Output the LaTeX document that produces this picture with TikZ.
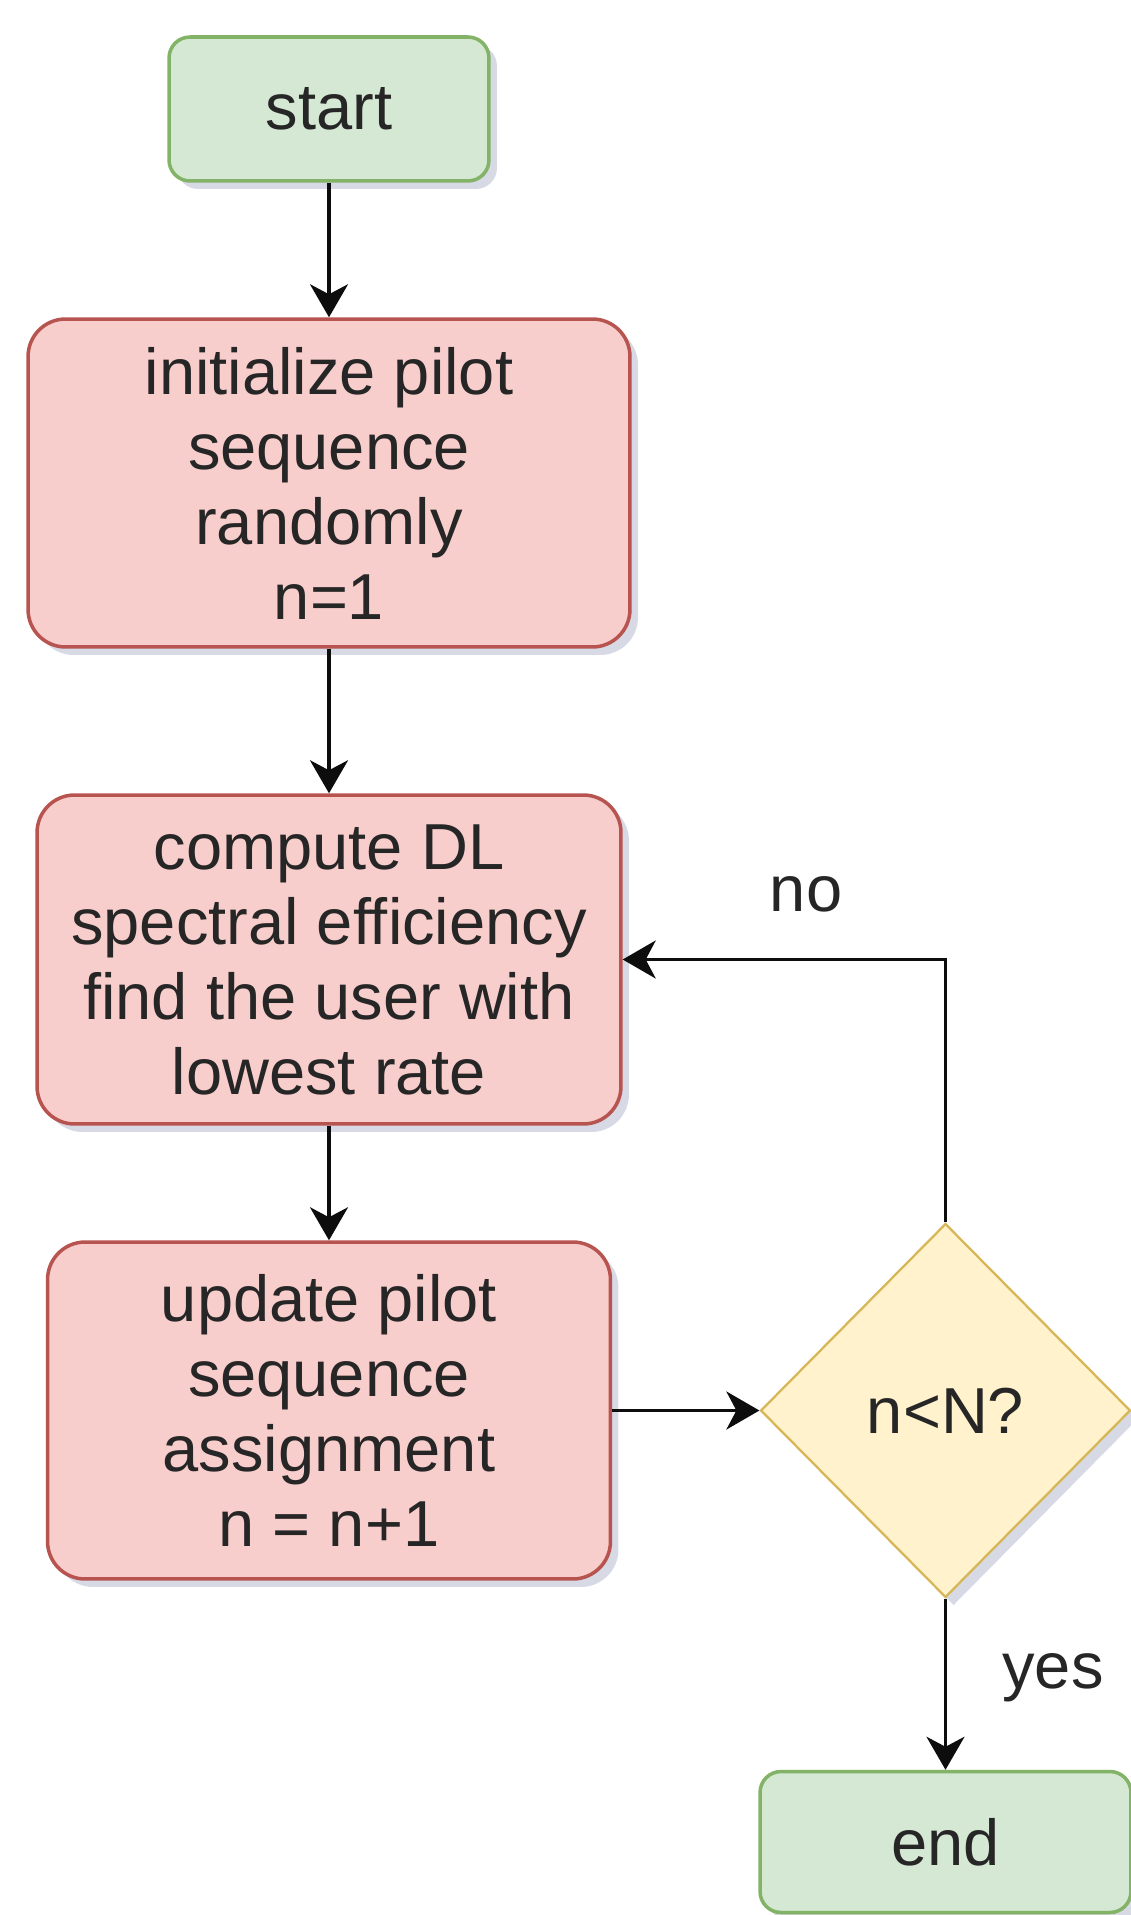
\documentclass[tikz,border=0pt]{standalone}
\usepackage{fontspec}
\setmainfont{Liberation Sans}
\usetikzlibrary{shapes.geometric,arrows.meta,shadows}

\definecolor{greenfill}{HTML}{D5E8D4}
\definecolor{greenline}{HTML}{82B366}
\definecolor{redfill}{HTML}{F8CECC}
\definecolor{redline}{HTML}{B85450}
\definecolor{yellowfill}{HTML}{FFF2CC}
\definecolor{yellowline}{HTML}{D6B656}
\definecolor{shadowcol}{HTML}{7A80A8}

\begin{document}
\begin{tikzpicture}[x=0.02cm,y=-0.02cm,
    every node/.style={font=\fontsize{37pt}{42.7pt}\selectfont, text=black!85, inner sep=0pt, align=center},
    boxshadow/.style={drop shadow={shadow xshift=0.16cm, shadow yshift=-0.16cm, fill=shadowcol, opacity=0.3}},
    termbox/.style={rectangle, rounded corners=0.42cm, draw=greenline, fill=greenfill, line width=2pt, boxshadow},
    procbox/.style={rectangle, rounded corners=0.75cm, draw=redline, fill=redfill, line width=2pt, boxshadow},
    testbox/.style={diamond, aspect=1, draw=yellowline, fill=yellowfill, line width=1.3pt, boxshadow},
    conn/.style={line width=0.07cm, black!95, -{Stealth[length=0.66cm,width=0.76cm,inset=0.2cm]}}]
    \useasboundingbox (0,0) rectangle (1131,1915);
    % boxes
    \node[termbox, minimum width=6.4cm, minimum height=2.88cm] (start) at (329,109) {start};
    \node[procbox, minimum width=12.04cm, minimum height=6.56cm] (init) at (329,483)
        {initialize pilot\\sequence\\randomly\\n=1};
    \node[procbox, minimum width=11.68cm, minimum height=6.58cm] (compute) at (329,959.5)
        {compute DL\\spectral efficiency\\find the user with\\lowest rate};
    \node[procbox, minimum width=11.26cm, minimum height=6.74cm] (update) at (329,1410.5)
        {update pilot\\sequence\\assignment\\n = n+1};
    \node[testbox, minimum width=7.4cm, minimum height=7.48cm] (check) at (945.5,1410.5) {n<N?};
    \node[termbox, minimum width=7.42cm, minimum height=2.82cm] (stop) at (945.5,1842) {end};
    % connectors
    \draw[conn] (start) -- (init);
    \draw[conn] (init) -- (compute);
    \draw[conn] (compute) -- (update);
    \draw[conn] (update.east) -- (check.west);
    \draw[conn] (check.north) |- (compute.east);
    \draw[conn] (check.south) -- (stop.north);
    % labels
    \node[anchor=base] (nolabel) at (806,911) {no};
    \node[anchor=base] (yeslabel) at (1053,1688) {yes};
\end{tikzpicture}
\end{document}
